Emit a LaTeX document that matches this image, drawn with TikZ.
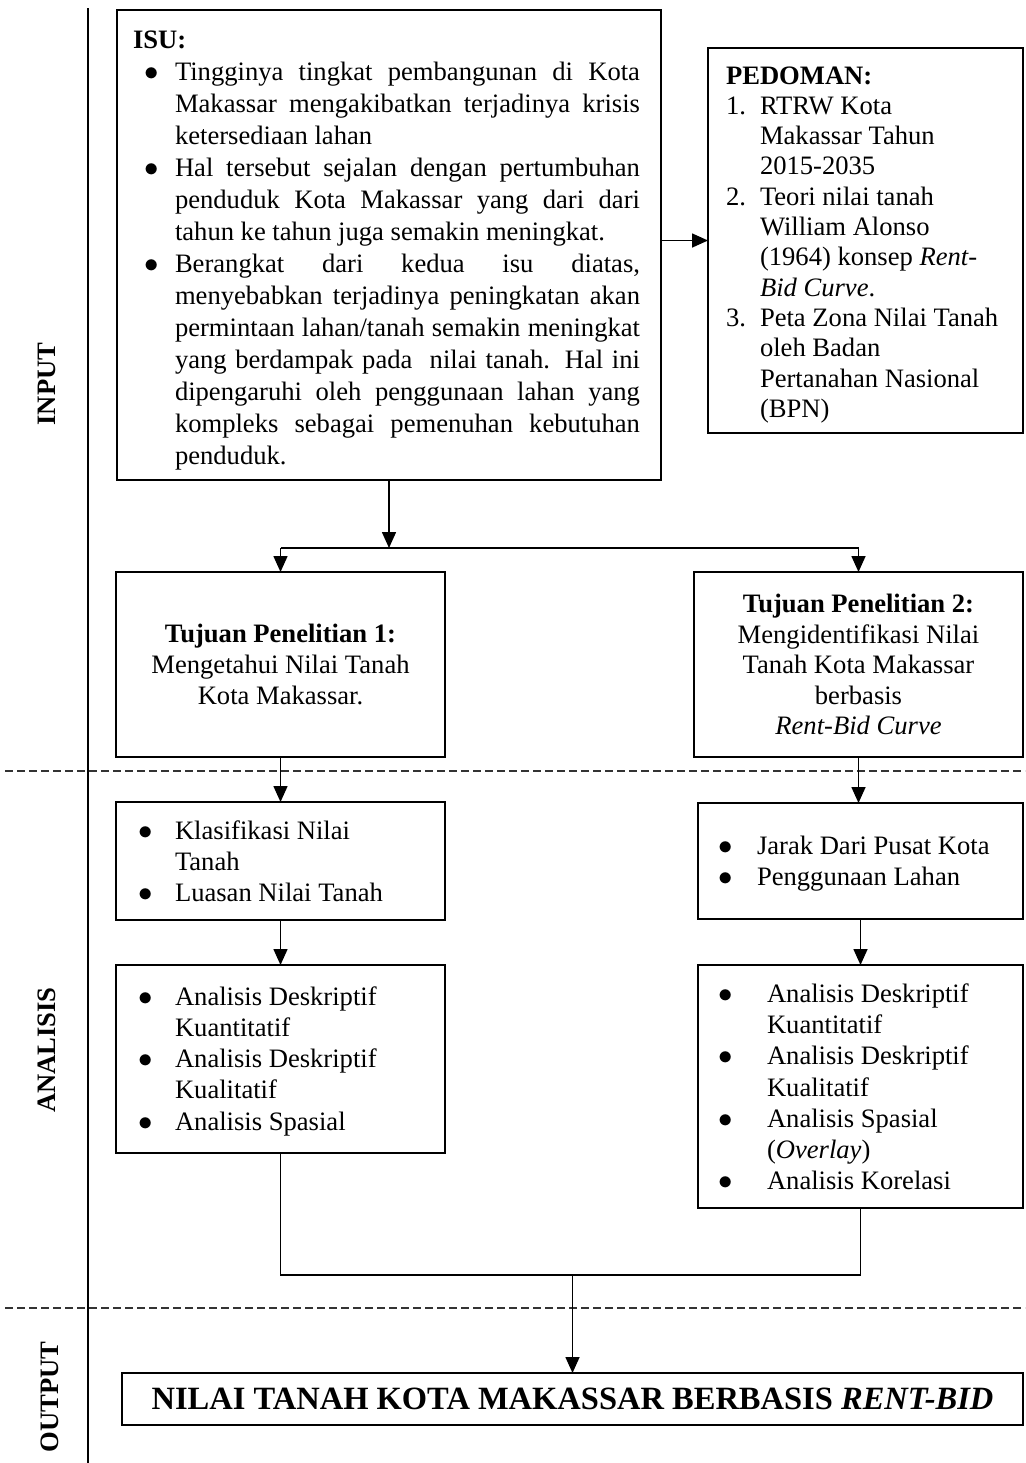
\documentclass[tikz,border=0pt]{standalone}
\usepackage{fontspec}
\setmainfont{Liberation Serif}
\usetikzlibrary{arrows.meta}
\newcommand\bodyfs[1]{\fontsize{13.3pt}{#1}\selectfont}
\newcommand\bitem[3]{\par\hangindent=#2\hangafter=1\noindent\makebox[#2][l]{\hspace*{#1}$\bullet$}#3\par}
\newcommand\nitem[3]{\par\hangindent=#2\hangafter=1\noindent\makebox[#2][l]{\hspace*{#1}#3}}
\newcommand\boxtext[5]{\parbox[t][#2][t]{#1}{\bodyfs{#3}\parindent=0pt\parskip=0pt\vspace*{#4}#5}}
\begin{document}
\begin{tikzpicture}[x=0.5pt,y=-0.5pt,
  box/.style={draw, line width=1.3pt, inner sep=0pt, outer sep=0pt, anchor=north west},
  conn/.style={line width=0.8pt},
  arr/.style={conn, -{Triangle[length=8pt,width=7pt]}},
  sect/.style={font=\fontsize{13.3pt}{16pt}\selectfont\bfseries, rotate=90},
  sepline/.style={dash pattern=on 4pt off 2pt, line width=0.6pt, draw=black!80},
]
\useasboundingbox (0,0) rectangle (1025,1463);

% section separators
\draw[line width=0.9pt] (88,8) -- (88,1463);
\draw[sepline] (5,771) -- (1025,771);
\draw[sepline] (5,1308) -- (1025,1308);
\node[sect] (lin) at (47,384) {INPUT};
\node[sect] (lan) at (47,1050) {ANALISIS};
\node[sect] (lout) at (50,1397) {OUTPUT};

% ISU box
\node[box] (isu) at (117,10) {\boxtext{272pt}{235pt}{16pt}{10.2pt}{\rightskip=10.5pt
\hspace*{8pt}\textbf{ISU:}\par
\bitem{13.5pt}{29pt}{Tingginya tingkat pembangunan di Kota\linebreak Makassar mengakibatkan terjadinya krisis\linebreak ketersediaan lahan}
\bitem{13.5pt}{29pt}{Hal tersebut sejalan dengan pertumbuhan\linebreak penduduk Kota Makassar yang dari dari\linebreak tahun ke tahun juga semakin meningkat.}
\bitem{13.5pt}{29pt}{Berangkat dari kedua isu diatas,\linebreak menyebabkan terjadinya peningkatan akan\linebreak permintaan lahan/tanah semakin meningkat\linebreak yang berdampak pada\ \ nilai tanah. Hal ini\linebreak dipengaruhi oleh penggunaan lahan yang\linebreak kompleks sebagai pemenuhan kebutuhan\linebreak penduduk.}}};

% PEDOMAN box
\node[box] (ped) at (708,48) {\boxtext{157.5pt}{192.5pt}{15.15pt}{9.2pt}{\rightskip=0pt plus 1fil\relax
\hspace*{9pt}\textbf{PEDOMAN:}\par
\nitem{9pt}{26pt}{1.}RTRW Kota\newline Makassar Tahun\newline 2015-2035\par
\nitem{9pt}{26pt}{2.}Teori nilai tanah\newline William Alonso\newline (1964) konsep \textit{Rent-}\newline \textit{Bid Curve}.\par
\nitem{9pt}{26pt}{3.}Peta Zona Nilai Tanah\newline oleh Badan\newline Pertanahan Nasional\newline (BPN)\par}};

% Tujuan boxes
\node[box, minimum width=164.5pt, minimum height=92.5pt, align=center,
  font=\fontsize{13.3pt}{15.5pt}\selectfont] (t1) at (116,572)
  {\textbf{Tujuan Penelitian 1:}\\ Mengetahui Nilai Tanah\\ Kota Makassar.};
\node[box, minimum width=164.5pt, minimum height=92.5pt, align=center,
  font=\fontsize{13.3pt}{15.25pt}\selectfont] (t2) at (694,572)
  {\textbf{Tujuan Penelitian 2:}\\ Mengidentifikasi Nilai\\ Tanah Kota Makassar\\ berbasis\\ \textit{Rent-Bid Curve}};

% second row
\node[box] (k1) at (116,802) {\boxtext{164.5pt}{59pt}{15.5pt}{9.4pt}{\rightskip=0pt plus 1fil\relax
\bitem{11pt}{29.5pt}{Klasifikasi Nilai\newline Tanah}
\bitem{11pt}{29.5pt}{Luasan Nilai Tanah}}};
\node[box] (k2) at (698,803) {\boxtext{162.5pt}{58pt}{15.5pt}{16.4pt}{\rightskip=0pt plus 1fil\relax
\bitem{10pt}{29.5pt}{Jarak Dari Pusat Kota}
\bitem{10pt}{29.5pt}{Penggunaan Lahan}}};

% analysis boxes
\node[box] (a1) at (116,965) {\boxtext{164.5pt}{94pt}{15.6pt}{10.8pt}{\rightskip=0pt plus 1fil\relax
\bitem{11pt}{29.5pt}{Analisis Deskriptif\newline Kuantitatif}
\bitem{11pt}{29.5pt}{Analisis Deskriptif\newline Kualitatif}
\bitem{11pt}{29.5pt}{Analisis Spasial}}};
\node[box] (a2) at (698,965) {\boxtext{162.5pt}{121.5pt}{15.6pt}{9.4pt}{\rightskip=0pt plus 1fil\relax
\bitem{10pt}{34.5pt}{Analisis Deskriptif\newline Kuantitatif}
\bitem{10pt}{34.5pt}{Analisis Deskriptif\newline Kualitatif}
\bitem{10pt}{34.5pt}{Analisis Spasial\newline (\textit{Overlay})}
\bitem{10pt}{34.5pt}{Analisis Korelasi}}};

% output box
\node[box, minimum width=450.5pt, minimum height=26pt,
  font=\fontsize{16.25pt}{19pt}\selectfont\bfseries] (out) at (122,1373)
  {NILAI TANAH KOTA MAKASSAR BERBASIS \textit{RENT-BID}};

% connectors
\draw[arr] (ped.west -| isu.east) -- (ped.west);
\path (isu.south) ++(0,68) coordinate (j1);
\draw[arr] (isu.south) -- (j1);
\draw[conn] (t1.north |- j1) -- (t2.north |- j1);
\draw[arr] (t1.north |- j1) -- (t1.north);
\draw[arr] (t2.north |- j1) -- (t2.north);
\draw[arr] (t1.south) -- (k1.north);
\draw[arr] (t2.south) -- (t2.south |- k2.north);
\draw[arr] (k1.south) -- (a1.north);
\draw[arr] (k2.south) -- (k2.south |- a2.north);
\path (a1.south) ++(0,122) coordinate (j2);
\draw[conn] (a1.south) -- (j2) -- (j2 -| a2.south) -- (a2.south);
\draw[arr] (out.north |- j2) -- (out.north);
\end{tikzpicture}
\end{document}
